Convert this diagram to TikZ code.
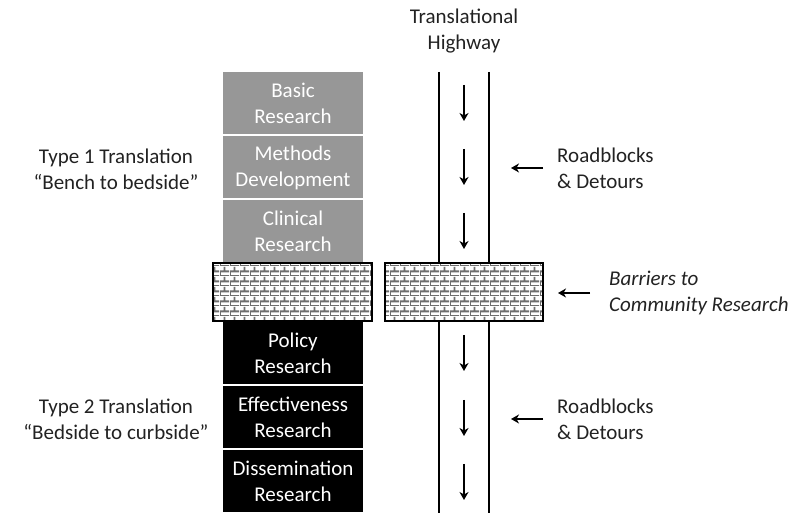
\documentclass[tikz,border=0pt]{standalone}
\usepackage{fontspec}
\setmainfont{Carlito}
\usetikzlibrary{positioning,patterns,arrows.meta}
\pgfdeclarepatternformonly{brickwall}{\pgfpointorigin}{\pgfpoint{10pt}{10pt}}{\pgfpoint{10pt}{10pt}}{
  \pgfsetlinewidth{2pt}
  \pgfpathmoveto{\pgfpoint{0pt}{0pt}}\pgfpathlineto{\pgfpoint{10pt}{0pt}}
  \pgfpathmoveto{\pgfpoint{0pt}{5pt}}\pgfpathlineto{\pgfpoint{10pt}{5pt}}
  \pgfpathmoveto{\pgfpoint{0pt}{0pt}}\pgfpathlineto{\pgfpoint{0pt}{5pt}}
  \pgfpathmoveto{\pgfpoint{5pt}{5pt}}\pgfpathlineto{\pgfpoint{5pt}{10pt}}
  \pgfusepath{stroke}}
\definecolor{upgray}{HTML}{979797}
\definecolor{txt}{HTML}{222222}
\definecolor{mortar}{HTML}{6E6E6E}

\begin{document}
\begin{tikzpicture}[x=1pt,y=1pt,node distance=64pt,on grid,
    font=\fontsize{21}{26}\selectfont,
    box/.style={minimum width=140pt,minimum height=62pt,inner sep=0pt,align=center,text=white},
    upbox/.style={box,fill=upgray},
    lowbox/.style={box,fill=black},
    wall/.style={draw,line width=1.6pt,minimum height=58pt,inner sep=0pt,
      preaction={fill=white},pattern=brickwall,pattern color=mortar},
    lbl/.style={inner sep=0pt,align=left,text=txt,anchor=west},
    >={Stealth[length=8pt,width=9pt,inset=2.5pt]}]
  \useasboundingbox (0,0) rectangle (800,526);
  \node[upbox] (basic) at (293,422.5) {Basic\\Research};
  \node[upbox] (methods) [below=of basic] {Methods\\Development};
  \node[upbox] (clinical) [below=of methods] {Clinical\\Research};
  \node[lowbox] (policy) at (293,173) {Policy\\Research};
  \node[lowbox] (effect) [below=of policy] {Effectiveness\\Research};
  \node[lowbox] (dissem) [below=of effect] {Dissemination\\Research};

  \coordinate (ltop) at (439,454);
  \coordinate (lbot) at (439,13);
  \coordinate (rtop) at (489,454);
  \coordinate (rbot) at (489,13);
  \draw[line width=1.8pt] (ltop) -- (lbot) (rtop) -- (rbot);
  \foreach \y in {441,377,313,191,126,62}
    \draw[->,line width=1.4pt] (464,\y) -- ++(0,-36);

  \node[wall,minimum width=159pt] (wall1) at (292.7,234) {};
  \node[wall,minimum width=158pt] (wall2) [right=171.5pt of wall1] {};

  \node[inner sep=0pt,align=center,text=txt] (highway) at (464,494.5) {Translational\\Highway};
  \node[inner sep=0pt,align=center,text=txt] (type1) at (116,357) {Type 1 Translation\\“Bench to bedside”};
  \node[inner sep=0pt,align=center,text=txt] (type2) at (116,107) {Type 2 Translation\\“Bedside to curbside”};

  \node[lbl] (rb1) at (557,358) {Roadblocks\\\& Detours};
  \node[lbl] (rb2) at (557,107) {Roadblocks\\\& Detours};
  \node[lbl,font=\fontsize{21}{26}\selectfont\itshape] (barrier) at (609,233) {Barriers to\\Community Research};
  \draw[->,line width=1.4pt] ([xshift=-14pt]rb1.west) -- ++(-32,0);
  \draw[->,line width=1.4pt] ([xshift=-14pt]rb2.west) -- ++(-32,0);
  \draw[->,line width=1.4pt] ([xshift=-19pt]barrier.west) -- ++(-32,0);
\end{tikzpicture}
\end{document}
